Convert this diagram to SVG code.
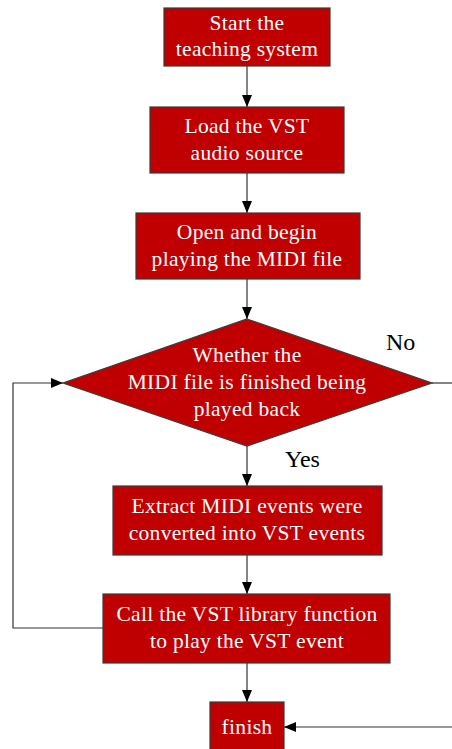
<svg xmlns="http://www.w3.org/2000/svg" width="452" height="749" viewBox="0 0 452 749">
<style>
.n{fill:#c00000;stroke:#3a3a3a;stroke-width:1.2}
.t{font-family:"Liberation Serif","Times New Roman",serif;font-size:21.5px;letter-spacing:0.3px;fill:#ffffff;text-anchor:middle}
.l{font-family:"Liberation Serif","Times New Roman",serif;font-size:24px;fill:#000000}
.c{fill:none;stroke:#333333;stroke-width:1.2}
</style>
<defs>
<marker id="a" viewBox="0 0 12 12" refX="12" refY="6" markerWidth="12" markerHeight="12" markerUnits="userSpaceOnUse" orient="auto">
<path d="M0,1 L12,6 L0,11 Z" fill="#000"/>
</marker>
</defs>
<rect width="452" height="749" fill="#fff"/>
<g id="connectors">
<line class="c" x1="247" y1="66" x2="247" y2="107" marker-end="url(#a)"/>
<line class="c" x1="247" y1="173" x2="247" y2="213" marker-end="url(#a)"/>
<line class="c" x1="247" y1="279" x2="247" y2="319" marker-end="url(#a)"/>
<line class="c" x1="247" y1="446" x2="247" y2="486" marker-end="url(#a)"/>
<line class="c" x1="247" y1="555" x2="247" y2="594" marker-end="url(#a)"/>
<line class="c" x1="247" y1="663" x2="247" y2="702" marker-end="url(#a)"/>
<polyline class="c" points="103,628 13,628 13,383 63,383" marker-end="url(#a)"/>
<line class="c" x1="432" y1="383" x2="452" y2="383"/>
<line class="c" x1="452" y1="727" x2="284" y2="727" marker-end="url(#a)"/>
<text class="l" x="386" y="350">No</text>
<text class="l" x="285" y="467">Yes</text>
</g>
<g id="start">
<rect class="n" x="164" y="8" width="166" height="58"/>
<text class="t" x="247" y="30">Start the</text>
<text class="t" x="247" y="56">teaching system</text>
</g>
<g id="load">
<rect class="n" x="150" y="107" width="194" height="66"/>
<text class="t" x="247" y="133">Load the VST</text>
<text class="t" x="247" y="160">audio source</text>
</g>
<g id="open">
<rect class="n" x="136" y="213" width="224" height="66"/>
<text class="t" x="247" y="239">Open and begin</text>
<text class="t" x="247" y="266">playing the MIDI file</text>
</g>
<g id="decision">
<polygon class="n" points="247,319 432,383 247,446 63,383"/>
<text class="t" x="247" y="362">Whether the</text>
<text class="t" x="247" y="389">MIDI file is finished being</text>
<text class="t" x="247" y="416">played back</text>
</g>
<g id="extract">
<rect class="n" x="113" y="486" width="269" height="69"/>
<text class="t" x="247" y="513">Extract MIDI events were</text>
<text class="t" x="247" y="540">converted into VST events</text>
</g>
<g id="call">
<rect class="n" x="103" y="594" width="287" height="69"/>
<text class="t" x="247" y="621">Call the VST library function</text>
<text class="t" x="247" y="648">to play the VST event</text>
</g>
<g id="finish">
<rect class="n" x="210" y="702" width="74" height="60"/>
<text class="t" x="247" y="734">finish</text>
</g>
</svg>
